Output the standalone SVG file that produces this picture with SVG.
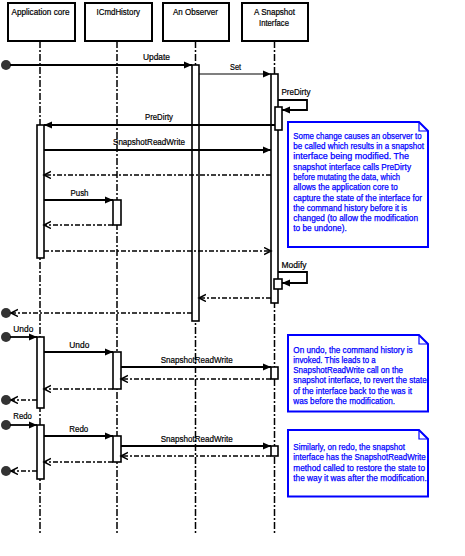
<svg xmlns="http://www.w3.org/2000/svg" width="465" height="556" viewBox="0 0 465 556">
<defs>
<style>
.hdr{fill:#fff;stroke:#000;stroke-width:2}
.t{font-family:"Liberation Sans",Arial,sans-serif;font-size:8.3px;fill:#000;stroke:#000;stroke-width:0.2}
.life{stroke:#000;stroke-width:1.5;stroke-dasharray:7 2 2 2;fill:none}
.act{fill:#fff;stroke:#000;stroke-width:1.6}
.msg{stroke:#000;stroke-width:1.8;fill:none;marker-end:url(#fa)}
.thin{stroke-width:1.2}
.ret{stroke:#000;stroke-width:1.5;fill:none;stroke-dasharray:5 2 2 2;marker-end:url(#oa)}
.dot{fill:#333}
.note{fill:#fff;stroke:#0000ff;stroke-width:2}
.nt{font-family:"Liberation Sans",Arial,sans-serif;font-size:8.7px;fill:#0000ff;stroke:#0000ff;stroke-width:0.25}
</style>
<marker id="fa" markerUnits="userSpaceOnUse" markerWidth="10" markerHeight="10" refX="8" refY="4" orient="auto">
<path d="M0,0.5 L8,4 L0,7.5 Z" fill="#000"/>
</marker>
<marker id="oa" markerUnits="userSpaceOnUse" markerWidth="10" markerHeight="10" refX="7" refY="4" orient="auto">
<path d="M0,0.5 L7,4 L0,7.5" fill="none" stroke="#000" stroke-width="1.5"/>
</marker>
</defs>
<rect width="465" height="556" fill="#fff"/>

<g id="lifelines">
<line class="life" x1="40" y1="41" x2="40" y2="533"/>
<line class="life" x1="117" y1="41" x2="117" y2="533"/>
<line class="life" x1="195.5" y1="41" x2="195.5" y2="533"/>
<line class="life" x1="274.5" y1="41" x2="274.5" y2="533"/>
</g>

<g id="app-core">
<rect class="hdr" x="8" y="3" width="67" height="38"/>
<text class="t" x="11.5" y="15" textLength="58" lengthAdjust="spacingAndGlyphs">Application core</text>
</g>
<g id="icmdhistory">
<rect class="hdr" x="85" y="3" width="67" height="38"/>
<text class="t" x="96.5" y="15" textLength="43.5" lengthAdjust="spacingAndGlyphs">ICmdHistory</text>
</g>
<g id="observer">
<rect class="hdr" x="163" y="3" width="66" height="38"/>
<text class="t" x="173" y="15" textLength="45" lengthAdjust="spacingAndGlyphs">An Observer</text>
</g>
<g id="snapshot">
<rect class="hdr" x="242" y="3" width="66" height="38"/>
<text class="t" x="254" y="15" textLength="41" lengthAdjust="spacingAndGlyphs">A Snapshot</text>
<text class="t" x="259" y="25.5" textLength="30" lengthAdjust="spacingAndGlyphs">Interface</text>
</g>

<g id="activations">
<rect class="act" x="37" y="125" width="7" height="133"/>
<rect class="act" x="113" y="200" width="8" height="25"/>
<rect class="act" x="192" y="65" width="7" height="256"/>
<rect class="act" x="271" y="74" width="7" height="229"/>
<rect class="act" x="37" y="337" width="7" height="71"/>
<rect class="act" x="113" y="352" width="8" height="37"/>
<rect class="act" x="271" y="367" width="7" height="12"/>
<rect class="act" x="37" y="425" width="7" height="54"/>
<rect class="act" x="113" y="436" width="8" height="26"/>
<rect class="act" x="271" y="446" width="7" height="10"/>
</g>

<g id="connectors">
<circle class="dot" cx="6" cy="65" r="5"/>
<circle class="dot" cx="6" cy="313" r="5"/>
<circle class="dot" cx="6" cy="337" r="5"/>
<circle class="dot" cx="6" cy="400" r="5"/>
<circle class="dot" cx="6" cy="425" r="5"/>
<circle class="dot" cx="6" cy="471" r="5"/>

<line class="msg" x1="10" y1="65" x2="192" y2="65"/>
<text class="t" x="143" y="60" textLength="27" lengthAdjust="spacingAndGlyphs">Update</text>
<line class="msg thin" x1="199" y1="74" x2="271" y2="74"/>
<text class="t" x="230" y="69.5" textLength="11" lengthAdjust="spacingAndGlyphs">Set</text>
<path class="msg" d="M278,100 H307 V110 H282"/>
<text class="t" x="281.5" y="95" textLength="29" lengthAdjust="spacingAndGlyphs">PreDirty</text>
<line class="msg" x1="275" y1="125" x2="44" y2="125"/>
<text class="t" x="145" y="120" textLength="28" lengthAdjust="spacingAndGlyphs">PreDirty</text>
<line class="msg" x1="44" y1="150" x2="271" y2="150"/>
<text class="t" x="113" y="145" textLength="72" lengthAdjust="spacingAndGlyphs">SnapshotReadWrite</text>
<line class="ret" x1="271" y1="175" x2="44" y2="175"/>
<line class="msg" x1="44" y1="200" x2="113" y2="200"/>
<text class="t" x="70.5" y="196" textLength="18" lengthAdjust="spacingAndGlyphs">Push</text>
<line class="ret" x1="113" y1="225" x2="44" y2="225"/>
<line class="ret" x1="44" y1="251" x2="271" y2="251"/>
<path class="msg" d="M278,272 H307 V283 H282"/>
<text class="t" x="281.5" y="268" textLength="25" lengthAdjust="spacingAndGlyphs">Modify</text>
<line class="ret" x1="271" y1="298" x2="199" y2="298"/>
<line class="ret thin" x1="192" y1="313" x2="11" y2="313"/>

<line class="msg" x1="10" y1="337" x2="37" y2="337"/>
<text class="t" x="13.3" y="332" textLength="20" lengthAdjust="spacingAndGlyphs">Undo</text>
<line class="msg" x1="44" y1="352" x2="113" y2="352"/>
<text class="t" x="69.3" y="348" textLength="20" lengthAdjust="spacingAndGlyphs">Undo</text>
<line class="msg" x1="121" y1="367" x2="271" y2="367"/>
<text class="t" x="160.7" y="363" textLength="72" lengthAdjust="spacingAndGlyphs">SnapshotReadWrite</text>
<line class="ret" x1="271" y1="379" x2="121" y2="379"/>
<line class="ret" x1="113" y1="389" x2="44" y2="389"/>
<line class="ret thin" x1="37" y1="400" x2="11" y2="400"/>

<line class="msg" x1="10" y1="425" x2="37" y2="425"/>
<text class="t" x="13.3" y="419" textLength="18.5" lengthAdjust="spacingAndGlyphs">Redo</text>
<line class="msg" x1="44" y1="436" x2="113" y2="436"/>
<text class="t" x="69.3" y="432" textLength="19" lengthAdjust="spacingAndGlyphs">Redo</text>
<line class="msg" x1="121" y1="446" x2="271" y2="446"/>
<text class="t" x="160.7" y="442" textLength="72" lengthAdjust="spacingAndGlyphs">SnapshotReadWrite</text>
<line class="ret thin" x1="271" y1="456" x2="121" y2="456"/>
<line class="ret thin" x1="113" y1="462" x2="44" y2="462"/>
<line class="ret" x1="37" y1="471" x2="11" y2="471"/>
</g>

<g id="nested-activations">
<rect class="act" x="275" y="107" width="7" height="23"/>
<rect class="act" x="274" y="279" width="8" height="10"/>
</g>

<g id="note1">
<path class="note" d="M288,122 H419 L428,131 V247 H288 Z"/>
<path d="M419,122 V131 H428" fill="none" stroke="#0000ff" stroke-width="1.2"/>
<text class="nt" x="293.3" y="138.7" textLength="128.4" lengthAdjust="spacingAndGlyphs">Some change causes an observer to</text>
<text class="nt" x="293.3" y="149" textLength="130.7" lengthAdjust="spacingAndGlyphs">be called which results in a snapshot</text>
<text class="nt" x="293.3" y="159.3" textLength="115.7" lengthAdjust="spacingAndGlyphs">interface being modified. The</text>
<text class="nt" x="293.3" y="169.6" textLength="117.7" lengthAdjust="spacingAndGlyphs">snapshot interface calls PreDirty</text>
<text class="nt" x="293.3" y="179.9" textLength="106.7" lengthAdjust="spacingAndGlyphs">before mutating the data, which</text>
<text class="nt" x="293.3" y="190.2" textLength="104.4" lengthAdjust="spacingAndGlyphs">allows the application core to</text>
<text class="nt" x="293.3" y="200.5" textLength="128.7" lengthAdjust="spacingAndGlyphs">capture the state of the interface for</text>
<text class="nt" x="293.3" y="210.8" textLength="113.7" lengthAdjust="spacingAndGlyphs">the command history before it is</text>
<text class="nt" x="293.3" y="221.1" textLength="124.7" lengthAdjust="spacingAndGlyphs">changed (to allow the modification</text>
<text class="nt" x="293.3" y="231.4" textLength="53.4" lengthAdjust="spacingAndGlyphs">to be undone).</text>
</g>

<g id="note2">
<path class="note" d="M288,335 H419 L428,344 V411.5 H288 Z"/>
<path d="M419,335 V344 H428" fill="none" stroke="#0000ff" stroke-width="1.2"/>
<text class="nt" x="293.3" y="352.5" textLength="119.4" lengthAdjust="spacingAndGlyphs">On undo, the command history is</text>
<text class="nt" x="293.3" y="362.8" textLength="82.4" lengthAdjust="spacingAndGlyphs">invoked. This leads to a</text>
<text class="nt" x="293.3" y="373.1" textLength="109.7" lengthAdjust="spacingAndGlyphs">SnapshotReadWrite call on the</text>
<text class="nt" x="293.3" y="383.4" textLength="133.4" lengthAdjust="spacingAndGlyphs">snapshot interface, to revert the state</text>
<text class="nt" x="293.3" y="393.7" textLength="118.7" lengthAdjust="spacingAndGlyphs">of the interface back to the was it</text>
<text class="nt" x="293.3" y="404" textLength="101.7" lengthAdjust="spacingAndGlyphs">was before the modification.</text>
</g>

<g id="note3">
<path class="note" d="M288,430 H419 L428,439 V496.5 H288 Z"/>
<path d="M419,430 V439 H428" fill="none" stroke="#0000ff" stroke-width="1.2"/>
<text class="nt" x="293.3" y="450" textLength="111.7" lengthAdjust="spacingAndGlyphs">Similarly, on redo, the snapshot</text>
<text class="nt" x="293.3" y="460.3" textLength="132.4" lengthAdjust="spacingAndGlyphs">interface has the SnapshotReadWrite</text>
<text class="nt" x="293.3" y="470.6" textLength="131.7" lengthAdjust="spacingAndGlyphs">method called to restore the state to</text>
<text class="nt" x="293.3" y="480.9" textLength="133.4" lengthAdjust="spacingAndGlyphs">the way it was after the modification.</text>
</g>
</svg>
